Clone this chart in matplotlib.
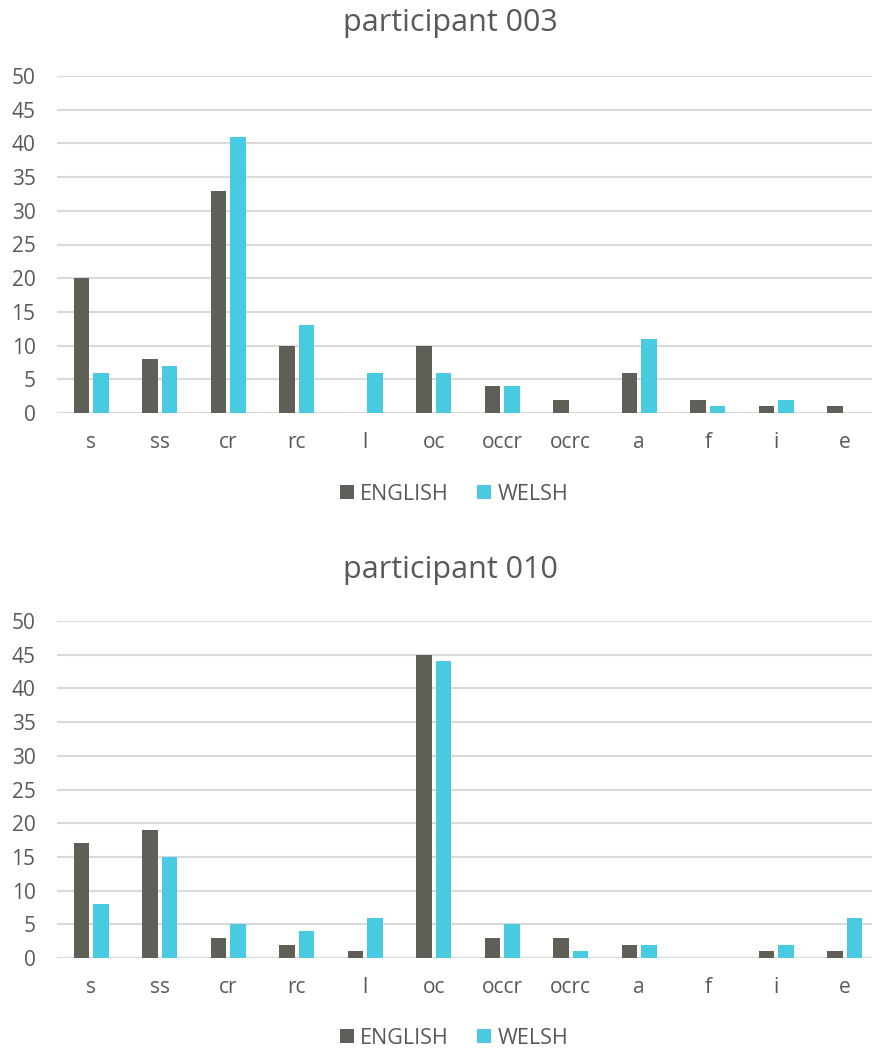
import matplotlib
matplotlib.use("Agg")
import matplotlib.pyplot as plt
import numpy as np

categories = ["s", "ss", "cr", "rc", "l", "oc", "occr", "ocrc", "a", "f", "i", "e"]
p003_english = [20, 8, 33, 10, 0, 10, 4, 2, 6, 2, 1, 1]
p003_welsh = [6, 7, 41, 13, 6, 6, 4, 0, 11, 1, 2, 0]
p010_english = [17, 19, 3, 2, 1, 45, 3, 3, 2, 0, 1, 1]
p010_welsh = [8, 15, 5, 4, 6, 44, 5, 1, 2, 0, 2, 6]
titles = ["participant 003", "participant 010"]
yticks = [0, 5, 10, 15, 20, 25, 30, 35, 40, 45, 50]
series_names = ["ENGLISH", "WELSH"]

plt.rcParams['font.family'] = ['Open Sans', 'DejaVu Sans']
TXT = "#595959"
C_EN = "#605F57"
C_WE = "#48CAE0"
GRID = "#D9D9D9"

W, H = 872, 1048
fig = plt.figure(figsize=(W / 100, H / 100), dpi=100)

def fx(px):
    return px / W

def fy(py):
    return 1 - py / H

panels = [
    (p003_english, p003_welsh, titles[0], 76, 413, 494, 23),
    (p010_english, p010_welsh, titles[1], 621, 958, 1038, 570),
]

left_px = 57
cat_px = 68.5
right_px = 872
for en, we, title, ytop, ybot, yleg, ytitle in panels:
    ax = fig.add_axes([fx(left_px), fy(ybot), fx(right_px - left_px), (ybot - ytop) / H])
    x = np.arange(len(categories))
    bw = 0.222
    off = 0.142
    b1 = ax.bar(x - off, en, width=bw, color=C_EN, label=series_names[0], zorder=3)
    b2 = ax.bar(x + off, we, width=bw, color=C_WE, label=series_names[1], zorder=3)
    ax.set_xlim(-0.5, -0.5 + (right_px - left_px) / cat_px)
    ax.set_ylim(0, 50)
    ax.set_yticks(yticks)
    ax.set_xticks(x)
    ax.set_xticklabels(categories)
    ax.tick_params(axis='both', length=0, colors=TXT, labelsize=15)
    ax.tick_params(axis='x', pad=14)
    ax.tick_params(axis='y', pad=15.5)
    for lab in ax.get_yticklabels():
        lab.set_horizontalalignment('right')
    ax.grid(axis='y', color=GRID, linewidth=1.5, zorder=0)
    for s in ax.spines.values():
        s.set_visible(False)
    ax.axhline(0, color=GRID, linewidth=1.5, zorder=2)
    fig.text(fx(450), fy(ytitle), title, ha='center', va='center', fontsize=22, color=TXT)
    fig.legend(handles=[b1, b2], labels=series_names, loc='center',
               bbox_to_anchor=(fx(454), fy(yleg)), ncol=2, frameon=False,
               fontsize=15.5, labelcolor=TXT, handlelength=0.65, handleheight=0.65,
               handletextpad=0.3, columnspacing=1.3)

fig.savefig("out.png", dpi=100, facecolor="white")
